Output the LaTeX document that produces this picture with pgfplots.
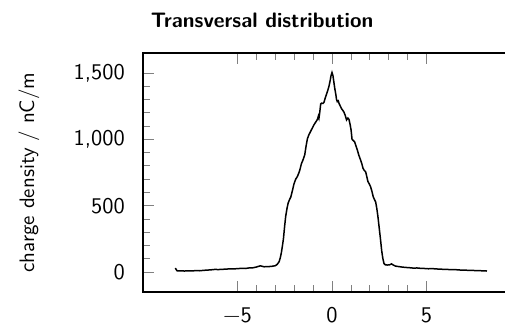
\documentclass[border=0pt]{standalone}
\usepackage{fontspec}
\usepackage{pgfplots}
\usepackage{pgfplotstable}
\pgfplotsset{compat=1.18}
\newfontfamily\plotfont{lmsans10-regular.otf}[BoldFont=lmsans10-bold.otf]

% measured transversal charge density profile
\pgfplotstableread{
x y
-8.29 30
-8.20 10
-8.00 9
-7.80 8
-7.60 10
-7.40 9
-7.20 11
-7.00 10
-6.80 13
-6.60 15
-6.40 17
-6.20 20
-6.00 19
-5.80 21
-5.60 22
-5.40 25
-5.20 24
-5.00 26
-4.80 28
-4.60 27
-4.40 31
-4.20 32
-4.00 38
-3.80 47
-3.70 44
-3.60 40
-3.40 41
-3.20 43
-3.00 48
-2.90 58
-2.80 78
-2.74 105
-2.68 145
-2.62 200
-2.57 250
-2.51 340
-2.45 420
-2.38 480
-2.32 520
-2.25 545
-2.18 565
-2.10 610
-2.01 665
-1.92 700
-1.83 720
-1.76 745
-1.70 770
-1.62 815
-1.52 850
-1.44 885
-1.37 950
-1.30 1005
-1.22 1035
-1.13 1060
-1.04 1085
-0.95 1110
-0.86 1130
-0.77 1150
-0.72 1175
-0.69 1160
-0.65 1200
-0.60 1265
-0.55 1272
-0.48 1270
-0.42 1280
-0.36 1310
-0.30 1335
-0.22 1370
-0.16 1400
-0.10 1440
-0.05 1480
0.00 1503
0.05 1480
0.10 1430
0.15 1380
0.20 1340
0.24 1300
0.28 1284
0.33 1290
0.38 1268
0.44 1250
0.50 1232
0.57 1218
0.63 1205
0.70 1180
0.77 1146
0.84 1160
0.90 1150
0.96 1110
1.01 1070
1.06 1000
1.13 990
1.20 980
1.27 950
1.34 920
1.42 880
1.51 845
1.58 815
1.64 782
1.71 765
1.78 755
1.84 720
1.90 682
1.97 665
2.04 643
2.11 610
2.18 568
2.25 545
2.31 528
2.37 480
2.43 418
2.50 330
2.57 241
2.63 160
2.69 103
2.75 65
2.82 55
2.92 53
3.05 55
3.15 62
3.22 55
3.36 45
3.50 42
3.70 38
3.90 35
4.10 33
4.30 30
4.50 31
4.70 28
4.90 27
5.10 25
5.30 26
5.50 24
5.70 22
5.90 21
6.10 20
6.30 18
6.50 19
6.70 16
6.90 15
7.10 14
7.30 13
7.50 12
7.70 11
7.90 10
8.10 9
8.20 8
}\profile

\begin{document}
\begin{tikzpicture}
\useasboundingbox (0,0) rectangle (505bp,328bp);
\clip (0,0) rectangle (505bp,328bp);
\begin{axis}[
  at={(143bp,36bp)}, anchor=south west,
  scale only axis, width=378bp, height=239bp,
  xmin=-10, xmax=10, ymin=-150, ymax=1650,
  xtick={-5,0,5}, xticklabels={−5,0,5},
  ytick={0,500,1000,1500}, yticklabels={0,500,{1,000},{1,500}},
  minor x tick num=4, minor y tick num=4,
  major tick length=11bp, minor tick length=7bp,
  every tick/.style={color=gray, line width=0.8bp},
  axis line style={line width=1.2bp},
  tick label style={font=\plotfont\fontsize{22.5}{22.5}\selectfont},
  xticklabel style={anchor=base, yshift=-30bp},
  yticklabel style={anchor=east, inner sep=0pt, xshift=-18bp},
  ylabel={charge density / nC/m},
  ylabel style={at={(rel axis cs:0,0.5)}, anchor=south, yshift=100bp,
    font=\plotfont\fontsize{21}{21}\selectfont},
  title={Transversal distribution},
  title style={at={(rel axis cs:0.315,1)}, anchor=base, yshift=20bp,
    font=\plotfont\bfseries\fontsize{21}{21}\selectfont},
]
\addplot[black, line width=1.5bp] table[x=x, y=y] {\profile};
\end{axis}
\end{tikzpicture}
\end{document}
